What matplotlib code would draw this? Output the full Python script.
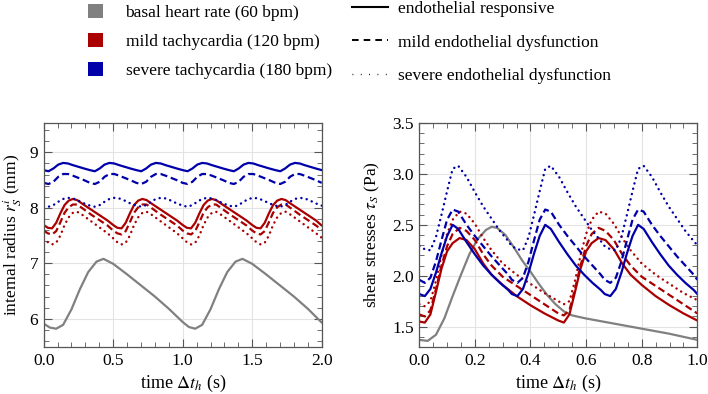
import matplotlib
matplotlib.use('Agg')
import matplotlib.pyplot as plt
from matplotlib.patches import Patch
from matplotlib.lines import Line2D
from matplotlib.ticker import MultipleLocator

plt.rcParams['font.family'] = ['Liberation Serif', 'DejaVu Serif']
plt.rcParams['mathtext.fontset'] = 'stix'

GRAY = '#808080'
RED = '#aa0000'
BLUE = '#0000aa'
FRAME = '#555555'

# ---------------- left panel: internal radius (mm) over 0..2 s
t_basal_r = [0, 0.045, 0.09, 0.14, 0.2, 0.26, 0.32, 0.38, 0.43, 0.5, 0.6, 0.7, 0.8, 0.9, 1.0,
             1.045, 1.09, 1.14, 1.2, 1.26, 1.32, 1.38, 1.43, 1.5, 1.6, 1.7, 1.8, 1.9, 2.0]
r_basal = [5.91, 5.84, 5.82, 5.89, 6.17, 6.53, 6.84, 7.03, 7.08, 6.99, 6.8, 6.6, 6.4, 6.18, 5.94,
           5.85, 5.82, 5.89, 6.17, 6.53, 6.84, 7.03, 7.08, 6.99, 6.8, 6.6, 6.4, 6.18, 5.93]

t_mild_r = [0, 0.03, 0.06, 0.09, 0.12, 0.15, 0.18, 0.21, 0.24, 0.28, 0.34, 0.40, 0.46,
            0.5, 0.53, 0.56, 0.59, 0.62, 0.65, 0.68, 0.71, 0.74, 0.78, 0.84, 0.90, 0.96,
            1.0, 1.03, 1.06, 1.09, 1.12, 1.15, 1.18, 1.21, 1.24, 1.28, 1.34, 1.40, 1.46,
            1.5, 1.53, 1.56, 1.59, 1.62, 1.65, 1.68, 1.71, 1.74, 1.78, 1.84, 1.90, 1.96, 2.0]
r_mild_resp = [7.69, 7.64, 7.63, 7.73, 7.90, 8.05, 8.13, 8.16, 8.14, 8.07, 7.97, 7.87, 7.77,
               7.69, 7.64, 7.63, 7.73, 7.90, 8.05, 8.13, 8.16, 8.14, 8.07, 7.97, 7.87, 7.77,
               7.69, 7.64, 7.63, 7.73, 7.90, 8.05, 8.13, 8.16, 8.14, 8.07, 7.97, 7.87, 7.77,
               7.69, 7.64, 7.63, 7.73, 7.90, 8.05, 8.13, 8.16, 8.14, 8.07, 7.97, 7.87, 7.77, 7.68]
r_mild_dys = [7.59, 7.54, 7.52, 7.58, 7.74, 7.91, 8.01, 8.06, 8.06, 7.99, 7.88, 7.78, 7.68,
              7.59, 7.54, 7.52, 7.58, 7.74, 7.91, 8.01, 8.06, 8.06, 7.99, 7.88, 7.78, 7.68,
              7.59, 7.54, 7.52, 7.58, 7.74, 7.91, 8.01, 8.06, 8.06, 7.99, 7.88, 7.78, 7.68,
              7.59, 7.54, 7.52, 7.58, 7.74, 7.91, 8.01, 8.06, 8.06, 7.99, 7.88, 7.78, 7.68, 7.60]
r_mild_sev = [7.45, 7.38, 7.34, 7.37, 7.50, 7.69, 7.83, 7.91, 7.93, 7.87, 7.76, 7.65, 7.54,
              7.45, 7.38, 7.34, 7.37, 7.50, 7.69, 7.83, 7.91, 7.93, 7.87, 7.76, 7.65, 7.54,
              7.45, 7.38, 7.34, 7.37, 7.50, 7.69, 7.83, 7.91, 7.93, 7.87, 7.76, 7.65, 7.54,
              7.45, 7.38, 7.34, 7.37, 7.50, 7.69, 7.83, 7.91, 7.93, 7.87, 7.76, 7.65, 7.54, 7.46]

t_sev_r = [0, 0.035, 0.07, 0.105, 0.14, 0.175, 0.21, 0.25, 0.29,
           0.333, 0.368, 0.403, 0.438, 0.473, 0.508, 0.543, 0.583, 0.623,
           0.667, 0.702, 0.737, 0.772, 0.807, 0.842, 0.877, 0.917, 0.957,
           1.0, 1.035, 1.07, 1.105, 1.14, 1.175, 1.21, 1.25, 1.29,
           1.333, 1.368, 1.403, 1.438, 1.473, 1.508, 1.543, 1.583, 1.623,
           1.667, 1.702, 1.737, 1.772, 1.807, 1.842, 1.877, 1.917, 1.957, 2.0]
r_sev_resp = [8.68, 8.66, 8.71, 8.78, 8.81, 8.80, 8.77, 8.74, 8.71,
              8.68, 8.66, 8.71, 8.78, 8.81, 8.80, 8.77, 8.74, 8.71,
              8.68, 8.66, 8.71, 8.78, 8.81, 8.80, 8.77, 8.74, 8.71,
              8.68, 8.66, 8.71, 8.78, 8.81, 8.80, 8.77, 8.74, 8.71,
              8.68, 8.66, 8.71, 8.78, 8.81, 8.80, 8.77, 8.74, 8.71,
              8.68, 8.66, 8.71, 8.78, 8.81, 8.80, 8.77, 8.74, 8.71, 8.68]
r_sev_dys = [8.45, 8.43, 8.47, 8.56, 8.61, 8.61, 8.58, 8.54, 8.50,
             8.45, 8.43, 8.47, 8.56, 8.61, 8.61, 8.58, 8.54, 8.50,
             8.45, 8.43, 8.47, 8.56, 8.61, 8.61, 8.58, 8.54, 8.50,
             8.45, 8.43, 8.47, 8.56, 8.61, 8.61, 8.58, 8.54, 8.50,
             8.45, 8.43, 8.47, 8.56, 8.61, 8.61, 8.58, 8.54, 8.50,
             8.45, 8.43, 8.47, 8.56, 8.61, 8.61, 8.58, 8.54, 8.50, 8.45]
r_sev_sev = [8.04, 8.02, 8.05, 8.11, 8.16, 8.18, 8.17, 8.13, 8.08,
             8.04, 8.02, 8.05, 8.11, 8.16, 8.18, 8.17, 8.13, 8.08,
             8.04, 8.02, 8.05, 8.11, 8.16, 8.18, 8.17, 8.13, 8.08,
             8.04, 8.02, 8.05, 8.11, 8.16, 8.18, 8.17, 8.13, 8.08,
             8.04, 8.02, 8.05, 8.11, 8.16, 8.18, 8.17, 8.13, 8.08,
             8.04, 8.02, 8.05, 8.11, 8.16, 8.18, 8.17, 8.13, 8.08, 8.04]

# ---------------- right panel: shear stresses (Pa) over 0..1 s
t_basal_s = [0, 0.03, 0.06, 0.09, 0.12, 0.15, 0.18, 0.21, 0.24, 0.26, 0.28, 0.31, 0.34, 0.37,
             0.40, 0.43, 0.46, 0.49, 0.52, 0.55, 0.6, 0.7, 0.8, 0.9, 1.0]
s_basal = [1.37, 1.36, 1.42, 1.58, 1.80, 2.01, 2.21, 2.36, 2.45, 2.48, 2.47, 2.40, 2.28, 2.15,
           2.04, 1.92, 1.81, 1.72, 1.65, 1.61, 1.58, 1.53, 1.48, 1.43, 1.37]

t_mild_s = [0, 0.02, 0.04, 0.06, 0.08, 0.10, 0.12, 0.145, 0.17, 0.20, 0.23, 0.26, 0.30, 0.35, 0.40, 0.45,
            0.50, 0.52, 0.54, 0.56, 0.58, 0.60, 0.62, 0.645, 0.67, 0.70, 0.73, 0.76, 0.80, 0.85, 0.90, 0.95,
            1.0]
s_mild_resp = [1.55, 1.54, 1.62, 1.84, 2.07, 2.24, 2.32, 2.37, 2.35, 2.26, 2.12, 2.01, 1.91, 1.80, 1.71, 1.63,
               1.56, 1.54, 1.62, 1.84, 2.07, 2.24, 2.32, 2.37, 2.35, 2.26, 2.12, 2.01, 1.91, 1.80, 1.71, 1.63,
               1.56]
s_mild_dys = [1.62, 1.60, 1.66, 1.87, 2.10, 2.29, 2.41, 2.47, 2.44, 2.35, 2.21, 2.10, 1.99, 1.90, 1.81, 1.72,
              1.63, 1.61, 1.66, 1.87, 2.10, 2.29, 2.41, 2.47, 2.44, 2.35, 2.21, 2.10, 1.99, 1.90, 1.81, 1.72,
              1.63]
s_mild_sev = [1.72, 1.70, 1.75, 1.95, 2.20, 2.41, 2.55, 2.63, 2.61, 2.51, 2.37, 2.25, 2.12, 2.01, 1.92, 1.83,
              1.75, 1.72, 1.75, 1.95, 2.20, 2.41, 2.55, 2.63, 2.61, 2.51, 2.37, 2.25, 2.12, 2.01, 1.92, 1.83,
              1.76]

t_sev_s = [0, 0.02, 0.04, 0.06, 0.08, 0.10, 0.12, 0.14, 0.17, 0.20, 0.23, 0.26, 0.29, 0.32,
           0.333, 0.353, 0.373, 0.393, 0.413, 0.433, 0.453, 0.473, 0.503, 0.533, 0.563, 0.593, 0.623, 0.653,
           0.667, 0.687, 0.707, 0.727, 0.747, 0.767, 0.787, 0.807, 0.837, 0.867, 0.897, 0.927, 0.957, 0.987,
           1.0]
s_sev_resp = [1.82, 1.80, 1.87, 2.03, 2.22, 2.39, 2.50, 2.46, 2.33, 2.21, 2.10, 2.01, 1.93, 1.86,
              1.82, 1.80, 1.87, 2.03, 2.22, 2.39, 2.50, 2.46, 2.33, 2.21, 2.10, 2.01, 1.93, 1.86,
              1.82, 1.80, 1.87, 2.03, 2.22, 2.39, 2.50, 2.46, 2.33, 2.21, 2.10, 2.01, 1.93, 1.86,
              1.82]
s_sev_dys = [1.96, 1.93, 1.98, 2.14, 2.35, 2.55, 2.65, 2.63, 2.50, 2.39, 2.29, 2.19, 2.10, 2.01,
             1.96, 1.93, 1.98, 2.14, 2.35, 2.55, 2.65, 2.63, 2.50, 2.39, 2.29, 2.19, 2.10, 2.01,
             1.96, 1.93, 1.98, 2.14, 2.35, 2.55, 2.65, 2.63, 2.50, 2.39, 2.29, 2.19, 2.10, 2.01,
             1.96]
s_sev_sev = [2.29, 2.26, 2.25, 2.38, 2.60, 2.83, 3.05, 3.08, 2.97, 2.82, 2.68, 2.56, 2.44, 2.34,
             2.29, 2.26, 2.25, 2.38, 2.60, 2.83, 3.05, 3.08, 2.97, 2.82, 2.68, 2.56, 2.44, 2.34,
             2.29, 2.26, 2.25, 2.38, 2.60, 2.83, 3.05, 3.08, 2.97, 2.82, 2.68, 2.56, 2.44, 2.34,
             2.30]

rate_labels = ['basal heart rate (60 bpm)', 'mild tachycardia (120 bpm)', 'severe tachycardia (180 bpm)']
endo_labels = ['endothelial responsive', 'mild endothelial dysfunction', 'severe endothelial dysfunction']

LW = 1.6
DASH = (0, (3.2, 1.7))
DOT = (0, (0.05, 2.2))


def draw(ax, x, y, color, style):
    kw = dict(color=color, solid_capstyle='round', solid_joinstyle='round')
    if style == 'dashed':
        ax.plot(x, y, lw=LW, linestyle=DASH, dash_capstyle='butt', **kw)
    elif style == 'dotted':
        ax.plot(x, y, lw=1.75, linestyle=DOT, dash_capstyle='round', **kw)
    else:
        ax.plot(x, y, lw=LW, **kw)


def frame(ax):
    for s in ax.spines.values():
        s.set_color(FRAME)
        s.set_linewidth(0.9)
    ax.tick_params(which='both', direction='in', top=True, right=True, color=FRAME,
                   labelsize=12.5, pad=4)
    ax.tick_params(which='major', length=6, width=0.8)
    ax.tick_params(which='minor', length=3.5, width=0.6)
    ax.grid(True, which='major', color='#e3e3e3', lw=0.8)
    ax.set_axisbelow(True)


fig = plt.figure(figsize=(7.08, 3.94), dpi=100)
ax1 = fig.add_axes([0.0617, 0.1193, 0.3927, 0.5685])
ax2 = fig.add_axes([0.5922, 0.1193, 0.3927, 0.5685])

draw(ax1, t_basal_r, r_basal, GRAY, 'solid')
draw(ax1, t_mild_r, r_mild_sev, RED, 'dotted')
draw(ax1, t_mild_r, r_mild_dys, RED, 'dashed')
draw(ax1, t_mild_r, r_mild_resp, RED, 'solid')
draw(ax1, t_sev_r, r_sev_sev, BLUE, 'dotted')
draw(ax1, t_sev_r, r_sev_dys, BLUE, 'dashed')
draw(ax1, t_sev_r, r_sev_resp, BLUE, 'solid')
ax1.set_xlim(0, 2)
ax1.set_ylim(5.49, 9.53)
ax1.xaxis.set_major_locator(MultipleLocator(0.5))
ax1.xaxis.set_minor_locator(MultipleLocator(0.1))
ax1.yaxis.set_major_locator(MultipleLocator(1))
ax1.yaxis.set_minor_locator(MultipleLocator(0.2))
ax1.xaxis.set_major_formatter(plt.FormatStrFormatter('%.1f'))
frame(ax1)
ax1.set_xlabel(r'time $\Delta t_h$ (s)', fontsize=13, labelpad=3)
ax1.set_ylabel(r'internal radius $r_S^i$ (mm)', fontsize=12.5, labelpad=4)

draw(ax2, t_basal_s, s_basal, GRAY, 'solid')
draw(ax2, t_mild_s, s_mild_sev, RED, 'dotted')
draw(ax2, t_mild_s, s_mild_dys, RED, 'dashed')
draw(ax2, t_mild_s, s_mild_resp, RED, 'solid')
draw(ax2, t_sev_s, s_sev_sev, BLUE, 'dotted')
draw(ax2, t_sev_s, s_sev_dys, BLUE, 'dashed')
draw(ax2, t_sev_s, s_sev_resp, BLUE, 'solid')
ax2.set_xlim(0, 1)
ax2.set_ylim(1.3, 3.5)
ax2.xaxis.set_major_locator(MultipleLocator(0.2))
ax2.xaxis.set_minor_locator(MultipleLocator(0.05))
ax2.yaxis.set_major_locator(MultipleLocator(0.5))
ax2.yaxis.set_minor_locator(MultipleLocator(0.1))
ax2.xaxis.set_major_formatter(plt.FormatStrFormatter('%.1f'))
ax2.yaxis.set_major_formatter(plt.FormatStrFormatter('%.1f'))
frame(ax2)
ax2.set_xlabel(r'time $\Delta t_h$ (s)', fontsize=13, labelpad=3)
ax2.set_ylabel(r'shear stresses $\tau_S$ (Pa)', fontsize=12.5, labelpad=7)

# legends
rate_handles = [Patch(facecolor=c, edgecolor='none') for c in (GRAY, RED, BLUE)]
fig.legend(rate_handles, rate_labels, loc='upper left', bbox_to_anchor=(88 / 708, 1 - 4 / 394),
           frameon=False, fontsize=12.5, handlelength=0.86, handleheight=0.86,
           handletextpad=1.3, labelspacing=0.68, borderpad=0, borderaxespad=0)

endo_handles = [Line2D([], [], color='black', lw=1.5),
                Line2D([], [], color='black', lw=1.4, linestyle=(0, (3.4, 2.6))),
                Line2D([], [], color='black', lw=1.0, linestyle=(0, (0.6, 5.4)))]
fig.legend(endo_handles, endo_labels, loc='upper left', bbox_to_anchor=(352 / 708, 1 - 0.5 / 394),
           frameon=False, fontsize=12.5, handlelength=2.1, handletextpad=0.55,
           labelspacing=1.02, borderpad=0, borderaxespad=0)

fig.savefig('out.png', dpi=100)
